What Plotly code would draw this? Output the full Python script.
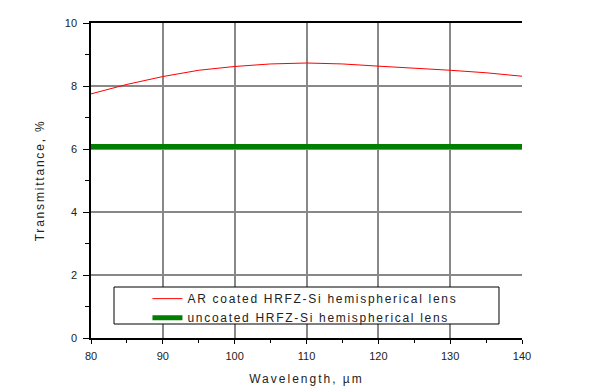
import plotly.graph_objects as go

wavelength = [80, 85, 90, 95, 100, 105, 110, 115, 120, 125, 130, 135, 140]
ar_coated = [7.75, 8.05, 8.30, 8.50, 8.62, 8.70, 8.73, 8.70, 8.63, 8.57, 8.50, 8.42, 8.31]
uncoated_x = [80, 140]
uncoated = [6.08, 6.08]

x_ticks = [80, 90, 100, 110, 120, 130, 140]
y_ticks = [0, 2, 4, 6, 8, 10]

FONT = "Liberation Sans"


def spaced(text, px):
    return f'<span style="letter-spacing:{px}px">{text}</span>'


fig = go.Figure()
fig.add_trace(go.Scatter(x=wavelength, y=ar_coated, mode="lines",
                         line=dict(color="#ff0000", width=1),
                         name=spaced("AR coated HRFZ-Si hemispherical lens", 1.7)))
fig.add_trace(go.Scatter(x=uncoated_x, y=uncoated, mode="lines",
                         line=dict(color="#007f00", width=5),
                         name=spaced("uncoated HRFZ-Si hemispherical lens", 1.7)))

# legend frame (white box behind legend)
fig.add_shape(type="rect", xref="paper", yref="paper",
              x0=0.0534, x1=0.9466, y0=0.0444, y1=0.1619,
              line=dict(color="black", width=1), fillcolor="white", layer="above")

fig.update_layout(
    width=603, height=383,
    margin=dict(l=83, r=89, t=15, b=53),
    paper_bgcolor="white", plot_bgcolor="white",
    font=dict(family=FONT, size=11, color="#222"),
    showlegend=True,
    legend=dict(x=0.131, y=0.171, xanchor="left", yanchor="top",
                borderwidth=0, bgcolor="rgba(0,0,0,0)",
                font=dict(family=FONT, size=12, color="#222"),
                tracegroupgap=0, itemwidth=30),
    xaxis=dict(range=[80, 140], tickvals=x_ticks, showgrid=True,
               gridcolor="#888", gridwidth=1.5, showline=True,
               linecolor="black", linewidth=1.5, mirror=True,
               ticks="outside", ticklen=4, tickcolor="black",
               ticklabelstandoff=3, automargin=False,
               minor=dict(dtick=5, ticks="outside", ticklen=3, tickcolor="black", showgrid=False),
               zeroline=False,
               title=dict(text=spaced("Wavelength, µm", 2), font=dict(family=FONT, size=12), standoff=14)),
    yaxis=dict(range=[0, 10], tickvals=y_ticks, showgrid=True,
               gridcolor="#888", gridwidth=1.5, showline=True,
               linecolor="black", linewidth=1.5, mirror=False,
               ticks="outside", ticklen=6, tickcolor="black",
               ticklabelstandoff=4, automargin=False,
               minor=dict(dtick=1, ticks="outside", ticklen=4, tickcolor="black", showgrid=False),
               zeroline=False,
               title=dict(text=spaced("Transmittance, %", 1.8), font=dict(family=FONT, size=12), standoff=18)),
)

fig.write_html("out.html")
